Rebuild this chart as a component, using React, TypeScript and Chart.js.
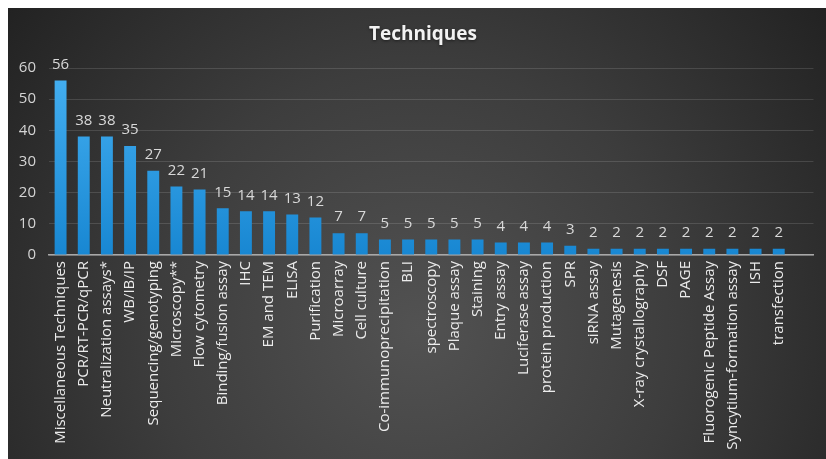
import React, { useEffect, useRef } from "react";
import { Chart, registerables } from "chart.js";

Chart.register(...registerables);

const chartTitle = "Techniques";

const categories: string[] = [
  "Miscellaneous Techniques",
  "PCR/RT-PCR/qPCR",
  "Neutralization assays*",
  "WB/IB/IP",
  "Sequencing/genotyping",
  "Microscopy**",
  "Flow cytometry",
  "Binding/fusion assay",
  "IHC",
  "EM and TEM",
  "ELISA",
  "Purification",
  "Microarray",
  "Cell culture",
  "Co-immunoprecipitation",
  "BLI",
  "spectroscopy",
  "Plaque assay",
  "Staining",
  "Entry assay",
  "Luciferase assay",
  "protein production",
  "SPR",
  "siRNA assay",
  "Mutagenesis",
  "X-ray crystallography",
  "DSF",
  "PAGE",
  "Fluorogenic Peptide Assay",
  "Syncytium-formation assay",
  "ISH",
  "transfection",
];

const counts: number[] = [
  56, 38, 38, 35, 27, 22, 21, 15, 14, 14, 13, 12, 7, 7, 5, 5, 5, 5, 5, 4, 4, 4, 3,
  2, 2, 2, 2, 2, 2, 2, 2, 2,
];

const yTicks: number[] = [0, 10, 20, 30, 40, 50, 60];

const FONT = "'Open Sans', 'DejaVu Sans', sans-serif";

const bgPlugin = {
  id: "bgPlugin",
  beforeDraw(chart: any) {
    const { ctx, width, height } = chart;
    ctx.save();
    const g = ctx.createRadialGradient(410, 320, 0, 410, 320, 580);
    g.addColorStop(0, "#525252");
    g.addColorStop(0.45, "#3d3d3d");
    g.addColorStop(1, "#1c1c1c");
    ctx.fillStyle = g;
    ctx.fillRect(0, 0, width, height);
    ctx.restore();
  },
};

const titlePlugin = {
  id: "titlePlugin",
  afterDraw(chart: any) {
    const { ctx } = chart;
    ctx.save();
    ctx.font = `bold 19px ${FONT}`;
    ctx.fillStyle = "#f2f2f2";
    ctx.textAlign = "center";
    ctx.textBaseline = "middle";
    ctx.shadowColor = "rgba(0,0,0,0.5)";
    ctx.shadowBlur = 3;
    ctx.shadowOffsetY = 1;
    ctx.fillText(chartTitle, 415, 27);
    ctx.restore();
  },
};

const labelPlugin = {
  id: "labelPlugin",
  afterDatasetsDraw(chart: any) {
    const { ctx } = chart;
    const meta = chart.getDatasetMeta(0);
    const data = chart.data.datasets[0].data;
    ctx.save();
    ctx.font = `15px ${FONT}`;
    ctx.fillStyle = "#d9d9d9";
    ctx.textAlign = "center";
    ctx.textBaseline = "middle";
    meta.data.forEach((bar: any, i: number) => {
      const v = data[i];
      if (v === null || v === undefined) return;
      ctx.fillText(String(v), bar.x, bar.y - 16);
    });
    ctx.restore();
  },
};

export default function App() {
  const ref = useRef<HTMLCanvasElement | null>(null);

  useEffect(() => {
    if (!ref.current) return;
    // one trailing empty category, as in the original chart's axis
    const labels = [...categories, ""];
    const values: (number | null)[] = [...counts, null];
    const chart = new Chart(ref.current, {
      type: "bar",
      data: {
        labels,
        datasets: [
          {
            data: values,
            backgroundColor: (ctx: any) => {
              const c = ctx.chart;
              const area = c.chartArea;
              if (!area) return "#2a9be3";
              const g = c.ctx.createLinearGradient(0, area.top, 0, area.bottom);
              g.addColorStop(0, "#45b0f2");
              g.addColorStop(1, "#1887d2");
              return g;
            },
            borderWidth: 0,
            barPercentage: 0.514,
            categoryPercentage: 1,
          },
        ],
      },
      options: {
        responsive: false,
        animation: false,
        layout: { padding: { left: 0, right: 6, top: 60, bottom: 0 } },
        plugins: {
          legend: { display: false },
          tooltip: { enabled: false },
          title: { display: false },
        },
        scales: {
          x: {
            grid: { display: false, drawTicks: false },
            border: { display: true, color: "#a8a8a8", width: 1.5 },
            ticks: {
              color: "#ececec",
              font: { family: FONT, size: 15 },
              minRotation: 90,
              maxRotation: 90,
              autoSkip: false,
              padding: 6,
            },
            afterFit: (scale: any) => {
              scale.height = 204;
            },
          },
          y: {
            min: 0,
            max: 60,
            afterBuildTicks: (scale: any) => {
              scale.ticks = yTicks.map((v) => ({ value: v }));
            },
            grid: {
              color: "rgba(255,255,255,0.13)",
              lineWidth: 1,
              drawTicks: false,
            },
            border: { display: false },
            ticks: {
              color: "#d4d4d4",
              font: { family: FONT, size: 15 },
              padding: 13,
            },
            afterFit: (scale: any) => {
              scale.width = 41;
            },
          },
        },
      },
      plugins: [bgPlugin, labelPlugin, titlePlugin],
    });
    return () => chart.destroy();
  }, []);

  return (
    <div
      style={{
        position: "fixed",
        left: 8,
        top: 8,
        width: 818,
        height: 451,
      }}
    >
      <canvas ref={ref} width={818} height={451} style={{ display: "block" }} />
    </div>
  );
}
